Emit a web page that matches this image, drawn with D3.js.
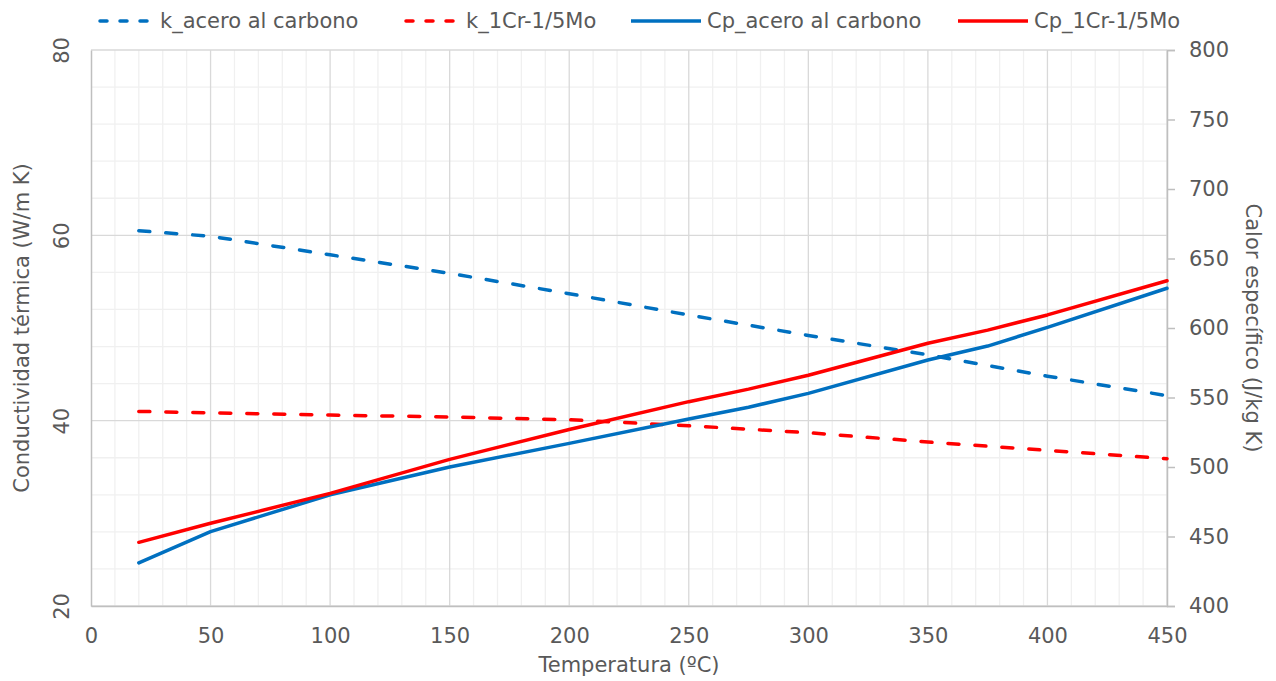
<!DOCTYPE html>
<html>
<head>
<meta charset="utf-8">
<script src="https://cdn.jsdelivr.net/npm/d3@7"></script>
<style>
  body { margin: 0; background: #fff; }
  text { font-family: "DejaVu Sans", Verdana, sans-serif; fill: #595959; }
</style>
</head>
<body>
<div id="chart"></div>
<script>
// data
var tempK = [20, 50, 100, 150, 200, 250, 300, 350, 400, 450];
var kAcero = [60.5, 59.9, 57.9, 55.9, 53.7, 51.4, 49.2, 47.1, 44.8, 42.7];
var kCrMo = [41.0, 40.85, 40.6, 40.4, 40.1, 39.45, 38.7, 37.7, 36.8, 35.9];

var tempCp = [20, 50, 100, 150, 200, 250, 275, 300, 350, 375, 400, 450];
var cpAcero = [431, 453.5, 480, 500, 517, 534.5, 543, 553, 577, 587, 600.5, 628.6];
var cpCrMo = [445.8, 459.5, 481, 505.5, 527, 547, 556, 566, 589, 598.5, 609.4, 634];

var xTicks = [0, 50, 100, 150, 200, 250, 300, 350, 400, 450];
var yLeftTicks = [20, 40, 60, 80];
var yRightTicks = [400, 450, 500, 550, 600, 650, 700, 750, 800];

var seriesNames = ["k_acero al carbono", "k_1Cr-1/5Mo", "Cp_acero al carbono", "Cp_1Cr-1/5Mo"];

var svgWidth = 1276;
var svgHeight = 681;
var margin = { top: 50, right: 109, bottom: 75, left: 91 };
var chartWidth = svgWidth - margin.left - margin.right;
var chartHeight = svgHeight - margin.top - margin.bottom;

var blue = "#0070C0";
var red = "#FF0000";

var svg = d3.select("#chart")
  .append("svg")
  .attr("width", svgWidth)
  .attr("height", svgHeight);

var chartGroup = svg.append("g")
  .attr("transform", `translate(${margin.left}, ${margin.top})`);

var xScale = d3.scaleLinear().domain([0, 450]).range([0, chartWidth]);
var yLeft = d3.scaleLinear().domain([20, 80]).range([chartHeight, 0]);
var yRight = d3.scaleLinear().domain([400, 800]).range([chartHeight, 0]);

// minor gridlines
chartGroup.append("g")
  .selectAll("line")
  .data(d3.range(0, 451, 10).filter(d => d % 50 != 0))
  .enter().append("line")
  .attr("x1", d => xScale(d)).attr("x2", d => xScale(d))
  .attr("y1", 0).attr("y2", chartHeight)
  .attr("stroke", "#f0f0f0").attr("stroke-width", 1.3);

chartGroup.append("g")
  .selectAll("line")
  .data(d3.range(20, 81, 4).filter(d => d % 20 != 0))
  .enter().append("line")
  .attr("x1", 0).attr("x2", chartWidth)
  .attr("y1", d => yLeft(d)).attr("y2", d => yLeft(d))
  .attr("stroke", "#f0f0f0").attr("stroke-width", 1.3);

// major gridlines
chartGroup.append("g")
  .selectAll("line")
  .data(xTicks.slice(1))
  .enter().append("line")
  .attr("x1", d => xScale(d)).attr("x2", d => xScale(d))
  .attr("y1", 0).attr("y2", chartHeight)
  .attr("stroke", "#d9d9d9").attr("stroke-width", 1.3);

chartGroup.append("g")
  .selectAll("line")
  .data(yLeftTicks)
  .enter().append("line")
  .attr("x1", 0).attr("x2", chartWidth)
  .attr("y1", d => yLeft(d)).attr("y2", d => yLeft(d))
  .attr("stroke", "#d9d9d9").attr("stroke-width", 1.3);

// axes
var bottomAxis = d3.axisBottom(xScale).tickValues(xTicks).tickSize(0).tickPadding(22);
var leftAxis = d3.axisLeft(yLeft).tickValues(yLeftTicks).tickSize(0).tickPadding(0);
var rightAxis = d3.axisRight(yRight).tickValues(yRightTicks).tickSize(8).tickPadding(14);

var gx = chartGroup.append("g")
  .attr("transform", `translate(0, ${chartHeight})`)
  .call(bottomAxis);

var gl = chartGroup.append("g").call(leftAxis);

var gr = chartGroup.append("g")
  .attr("transform", `translate(${chartWidth}, 0)`)
  .call(rightAxis);

[gx, gl, gr].forEach(function(g) {
  g.select(".domain").attr("stroke", "#bfbfbf").attr("stroke-width", 1.5);
  g.selectAll(".tick line").attr("stroke", "#bfbfbf").attr("stroke-width", 1.5);
  g.selectAll("text").style("font-size", "21px").attr("fill", "#595959");
});
gx.selectAll(".tick text").attr("dy", "0.71em");

// left tick labels are rotated
gl.selectAll(".tick text")
  .attr("transform", "rotate(-90)")
  .attr("x", 0)
  .attr("y", -29)
  .attr("dy", "0.35em")
  .style("text-anchor", "middle");

// lines
var lineK = d3.line().x((d, i) => xScale(tempK[i])).y(d => yLeft(d));
var lineCp = d3.line().x((d, i) => xScale(tempCp[i])).y(d => yRight(d));

var series = [
  { values: kAcero, gen: lineK, color: blue, dash: "11,16" },
  { values: kCrMo, gen: lineK, color: red, dash: "11,16" },
  { values: cpAcero, gen: lineCp, color: blue, dash: null },
  { values: cpCrMo, gen: lineCp, color: red, dash: null }
];

series.forEach(function(s) {
  chartGroup.append("path")
    .attr("d", s.gen(s.values))
    .attr("fill", "none")
    .attr("stroke", s.color)
    .attr("stroke-width", 3.5)
    .attr("stroke-linecap", "round")
    .attr("stroke-linejoin", "round")
    .attr("stroke-dasharray", s.dash);
});

// axis titles
chartGroup.append("text")
  .attr("x", chartWidth / 2)
  .attr("y", chartHeight + 66)
  .style("text-anchor", "middle")
  .style("font-size", "21px")
  .text("Temperatura (ºC)");

svg.append("text")
  .attr("transform", `translate(29, ${margin.top + chartHeight / 2}) rotate(-90)`)
  .style("text-anchor", "middle")
  .style("font-size", "21px")
  .text("Conductividad térmica (W/m K)");

svg.append("text")
  .attr("transform", `translate(1246, ${margin.top + chartHeight / 2}) rotate(90)`)
  .style("text-anchor", "middle")
  .style("font-size", "21px")
  .text("Calor específico (J/kg K)");

// legend
var legendTextX = [160, 466, 707, 1034];
var legend = svg.append("g");
series.forEach(function(s, i) {
  legend.append("line")
    .attr("x1", s.dash ? legendTextX[i] - 60 : legendTextX[i] - 76)
    .attr("x2", legendTextX[i] - 6)
    .attr("y1", 21).attr("y2", 21)
    .attr("stroke", s.color)
    .attr("stroke-width", 3.5)
    .attr("stroke-linecap", s.dash ? "round" : "butt")
    .attr("stroke-dasharray", s.dash ? "7,13" : null);
  legend.append("text")
    .attr("x", legendTextX[i])
    .attr("y", 21)
    .attr("dy", "0.35em")
    .style("font-size", "21px")
    .text(seriesNames[i]);
});
</script>
</body>
</html>
